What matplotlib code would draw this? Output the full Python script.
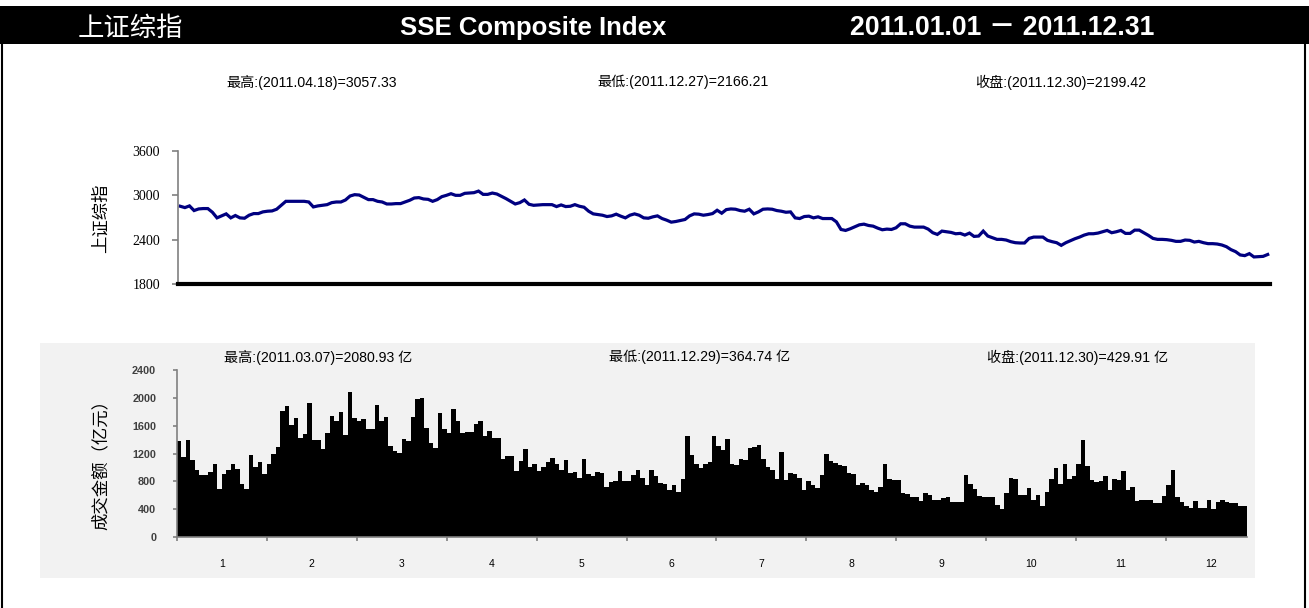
import matplotlib
matplotlib.use("Agg")
import matplotlib.pyplot as plt
from matplotlib.patches import Rectangle
from matplotlib.lines import Line2D
import numpy as np

# ---------------- data ----------------
index_close = [
    2852, 2834, 2857, 2794, 2816, 2821, 2821, 2771, 2695, 2722,
    2749, 2695, 2727, 2695, 2690, 2731, 2753, 2753, 2776, 2785,
    2789, 2812, 2865, 2919, 2919, 2919, 2919, 2919, 2910, 2843,
    2857, 2865, 2874, 2901, 2910, 2910, 2937, 2991, 3009, 3004,
    2973, 2942, 2942, 2919, 2910, 2883, 2883, 2888, 2888, 2910,
    2933, 2964, 2969, 2951, 2946, 2919, 2942, 2982, 3000, 3022,
    3000, 3000, 3027, 3031, 3036, 3057.33, 3013, 3013, 3031, 3018,
    2986, 2955, 2919, 2883, 2901, 2937, 2879, 2865, 2870, 2874,
    2874, 2874, 2848, 2870, 2848, 2852, 2874, 2852, 2839, 2785,
    2749, 2740, 2731, 2713, 2722, 2745, 2718, 2695, 2731, 2749,
    2731, 2695, 2690, 2709, 2722, 2686, 2664, 2637, 2646, 2659,
    2673, 2722, 2749, 2745, 2731, 2740, 2753, 2798, 2758, 2807,
    2816, 2812, 2794, 2785, 2812, 2749, 2776, 2812, 2816, 2812,
    2794, 2785, 2771, 2776, 2695, 2686, 2713, 2718, 2695, 2709,
    2686, 2686, 2686, 2641, 2538, 2525, 2547, 2574, 2601, 2610,
    2592, 2583, 2556, 2534, 2543, 2538, 2561, 2615, 2615, 2583,
    2570, 2570, 2570, 2543, 2494, 2471, 2516, 2507, 2498, 2480,
    2485, 2462, 2489, 2444, 2449, 2516, 2449, 2426, 2404, 2404,
    2395, 2373, 2359, 2355, 2355, 2417, 2435, 2435, 2435, 2391,
    2373, 2359, 2323, 2359, 2386, 2413, 2435, 2462, 2480, 2480,
    2489, 2507, 2525, 2494, 2507, 2525, 2485, 2485, 2529, 2529,
    2494, 2458, 2417, 2404, 2404, 2400, 2391, 2377, 2377, 2395,
    2391, 2368, 2377, 2359, 2346, 2346, 2341, 2328, 2305, 2265,
    2238, 2193, 2184, 2211, 2166.21, 2170, 2174, 2199.42,
]

turnover = [
    1378, 1152, 1392, 1104, 960, 898, 898, 936, 1056, 686,
    912, 970, 1042, 984, 768, 686, 1176, 1008, 1080, 912,
    1056, 1186, 1296, 1814, 1886, 1608, 1704, 1426, 1483, 1920,
    1392, 1392, 1258, 1498, 1742, 1666, 1800, 1464, 2080.93, 1704,
    1666, 1694, 1546, 1546, 1896, 1666, 1728, 1306, 1238, 1210,
    1406, 1382, 1728, 1978, 2002, 1560, 1354, 1282, 1776, 1546,
    1488, 1838, 1666, 1488, 1512, 1512, 1618, 1666, 1454, 1522,
    1416, 1416, 1128, 1166, 1166, 946, 1090, 1258, 1008, 1056,
    946, 1008, 1080, 1142, 1056, 960, 1104, 926, 936, 854,
    1128, 912, 874, 936, 926, 720, 792, 802, 946, 802,
    802, 888, 960, 850, 744, 960, 878, 778, 768, 672,
    744, 648, 830, 1450, 1176, 1056, 994, 1042, 1080, 1450,
    1306, 1248, 1406, 1046, 1032, 1128, 1104, 1282, 1296, 1320,
    1114, 1008, 970, 840, 1224, 816, 926, 912, 854, 672,
    802, 754, 706, 898, 1186, 1094, 1070, 1032, 1022, 926,
    912, 744, 778, 744, 672, 648, 720, 1056, 830, 816,
    816, 634, 614, 576, 576, 518, 634, 610, 538, 538,
    566, 576, 504, 504, 504, 888, 768, 686, 590, 576,
    576, 576, 456, 408, 634, 850, 830, 600, 600, 706,
    528, 600, 446, 648, 840, 998, 768, 1056, 840, 874,
    1042, 1392, 1018, 816, 792, 802, 874, 672, 830, 816,
    946, 672, 720, 514, 528, 528, 528, 494, 494, 590,
    744, 970, 576, 504, 446, 418, 514, 418, 418, 528,
    398, 504, 528, 504, 494, 494, 440, 450,
]

month_labels = ["1", "2", "3", "4", "5", "6", "7", "8", "9", "10", "11", "12"]
top_yticks = [1800, 2400, 3000, 3600]
bot_yticks = [0, 400, 800, 1200, 1600, 2000, 2400]

header_cn = "上证综指"
header_en = "SSE Composite Index"
header_date = "2011.01.01 \uff0d 2011.12.31"
top_notes = ["最高:(2011.04.18)=3057.33", "最低:(2011.12.27)=2166.21", "收盘:(2011.12.30)=2199.42"]
bot_notes = ["最高:(2011.03.07)=2080.93 亿", "最低:(2011.12.29)=364.74 亿", "收盘:(2011.12.30)=429.91 亿"]

# ---------------- figure ----------------
W, H = 1309, 608
fig = plt.figure(figsize=(W / 100, H / 100), dpi=100)
fig.patch.set_facecolor("white")

CJK = ["Noto Sans CJK SC", "DejaVu Sans"]
SANS = ["Liberation Sans", "Noto Sans CJK SC"]


def fx(px):
    return px / W


def fy(py):
    return 1 - py / H


def rect(x0, y0, x1, y1):
    return [fx(x0), fy(y1), fx(x1) - fx(x0), fy(y0) - fy(y1)]


# light gray panel behind the turnover chart
fig.patches.append(Rectangle((fx(40), fy(578)), fx(1255) - fx(40), fy(343) - fy(578),
                             transform=fig.transFigure, facecolor="#f2f2f2",
                             edgecolor="none", zorder=-10))

# header band
fig.patches.append(Rectangle((0, fy(44)), 1, fy(6) - fy(44), transform=fig.transFigure,
                             facecolor="black", edgecolor="none", zorder=-9))
# outer frame lines
fig.add_artist(Line2D([fx(1.5), fx(1.5)], [fy(44), fy(607)], color="black", lw=1.5,
                      transform=fig.transFigure))
fig.add_artist(Line2D([fx(1305), fx(1305)], [fy(44), fy(607)], color="black", lw=1.5,
                      transform=fig.transFigure))

hy = fy(28)
fig.text(fx(78), hy, header_cn, color="white", fontsize=19, family=CJK,
         ha="left", va="center")
fig.text(fx(533), hy, header_en, color="white", fontsize=18.5, family=SANS,
         ha="center", va="center", fontweight="bold")
fig.text(fx(1002), hy, header_date, color="white", fontsize=19.2, family=SANS,
         ha="center", va="center", fontweight="bold")

# ---------------- top panel: index line ----------------
ax1 = fig.add_axes(rect(178, 151, 1270, 284))
ax1.set_facecolor("none")
x = np.arange(len(index_close))
ax1.plot(x, index_close, color="#000080", lw=2.3, solid_joinstyle="miter")
ax1.set_xlim(-0.5, len(index_close) - 0.5)
ax1.set_ylim(1800, 3600)
ax1.set_yticks(top_yticks)
ax1.set_yticklabels([str(v) for v in top_yticks], family=["Liberation Serif"], fontsize=10)
ax1.set_xticks([])
for s in ["top", "right"]:
    ax1.spines[s].set_visible(False)
ax1.spines["left"].set_color("#808080")
ax1.spines["left"].set_linewidth(1.2)
ax1.spines["bottom"].set_color("black")
ax1.spines["bottom"].set_linewidth(3)
ax1.tick_params(axis="y", direction="out", length=4, width=1.2, color="#808080", pad=9)
fig.text(fx(101), fy(218), "上证综指", family=CJK, fontsize=12.5, rotation=90,
         ha="center", va="center")

for xc, t in zip([312, 683, 1061], top_notes):
    fig.text(fx(xc), fy(82), t, fontsize=10.2, family=SANS, ha="center", va="center")

# ---------------- bottom panel: turnover bars ----------------
ax2 = fig.add_axes(rect(177, 370, 1247, 537))
ax2.set_facecolor("none")
xb = np.arange(len(turnover))
ax2.bar(xb, turnover, width=1.0, color="black", edgecolor="none", linewidth=0)
ax2.set_xlim(-0.5, len(turnover) - 0.5)
ax2.set_ylim(0, 2400)
ax2.set_yticks(bot_yticks)
ax2.set_yticklabels([str(v) for v in bot_yticks], fontsize=7.8, fontweight="bold",
                    color="#404040", family=SANS)
tick_pos = np.arange(0, len(turnover), 20) - 0.5
ax2.set_xticks(tick_pos)
ax2.set_xticklabels([])
ax2.set_xticks(np.arange(len(month_labels)) * 20 + 9.5, minor=True)
ax2.set_xticklabels(month_labels, minor=True, fontsize=7.5, family=SANS)
ax2.tick_params(axis="x", which="minor", length=0, pad=16)
ax2.tick_params(axis="x", which="major", direction="out", length=3, width=1.2, color="#808080")
ax2.tick_params(axis="y", direction="out", length=3, width=1.2, color="#808080", pad=12)
for s in ["top", "right"]:
    ax2.spines[s].set_visible(False)
for s in ["left", "bottom"]:
    ax2.spines[s].set_color("#808080")
    ax2.spines[s].set_linewidth(1.2)
fig.text(fx(101), fy(460), "成交金额（亿元）", family=CJK, fontsize=12.5, rotation=90,
         ha="center", va="center")

for xc, t in zip([318, 700, 1078], bot_notes):
    fig.text(fx(xc), fy(357), t, fontsize=10.2, family=SANS, ha="center", va="center")

fig.savefig("out.png", dpi=100)
